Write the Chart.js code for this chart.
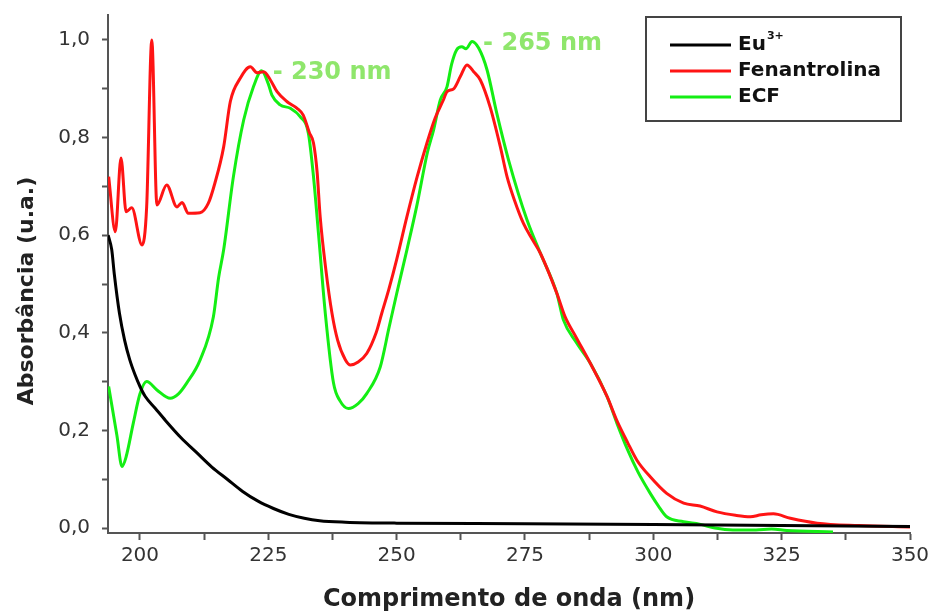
<!DOCTYPE html>
<html>
<head>
<meta charset="utf-8">
<script src="https://cdn.jsdelivr.net/npm/chart.js@4.4.1/dist/chart.umd.min.js"></script>
<style>
  html, body { margin: 0; padding: 0; background: #fff; }
  #grafico { display: block; }
</style>
</head>
<body>
<canvas id="grafico" width="933" height="614"></canvas>
<script>
// Espectros de absorção UV
const nomesSeries = ['Eu³⁺', 'Fenantrolina', 'ECF'];
const coresSeries = ['#000000', '#ff1414', '#14ee14'];

const euNm  = [193.8, 194.5, 195, 196, 197, 198, 199, 200, 201, 203, 205, 208, 211, 214, 217, 220, 223, 226, 229, 232, 235, 240, 250, 275, 300, 325, 350];
const euAbs = [0.60, 0.57, 0.52, 0.44, 0.385, 0.345, 0.315, 0.29, 0.27, 0.245, 0.22, 0.185, 0.155, 0.125, 0.10, 0.075, 0.055, 0.04, 0.028, 0.02, 0.015, 0.012, 0.01, 0.009, 0.007, 0.005, 0.003];

const fenNm  = [193.9, 195.2, 196.3, 197.3, 198.4, 200.4, 201.3, 202.3, 203.3, 205.2, 207.2, 208.2, 209.4, 211.7, 213.3, 214.6, 216.3, 217.6, 219.5, 221.5, 222.8, 224.1, 225.4, 226.7, 228.6, 230.6, 231.8, 233.0, 233.8, 234.5, 235.1, 236.2, 237.4, 238.5, 240.0, 241.0, 242.5, 244.2, 246.0, 247.1, 248.5, 250.0, 252.0, 254.0, 255.9, 257.5, 259.1, 259.8, 261.1, 262.4, 263.7, 265.0, 266.3, 268.2, 270.2, 271.5, 273.0, 274.7, 276.5, 278.0, 281.2, 282.8, 285.0, 287.7, 291.0, 292.9, 295.0, 296.8, 299.4, 302.6, 305.9, 309.1, 312.4, 316.0, 318.9, 321.0, 323.4, 326.7, 331.9, 340, 350];
const fenAbs = [0.72, 0.607, 0.758, 0.648, 0.656, 0.58, 0.658, 1.0, 0.662, 0.703, 0.658, 0.667, 0.645, 0.646, 0.665, 0.707, 0.781, 0.874, 0.921, 0.945, 0.933, 0.935, 0.918, 0.894, 0.874, 0.86, 0.846, 0.81, 0.789, 0.73, 0.638, 0.53, 0.44, 0.385, 0.345, 0.334, 0.34, 0.358, 0.40, 0.44, 0.49, 0.55, 0.638, 0.72, 0.789, 0.84, 0.877, 0.894, 0.90, 0.925, 0.949, 0.935, 0.918, 0.863, 0.781, 0.72, 0.67, 0.624, 0.59, 0.563, 0.481, 0.433, 0.39, 0.338, 0.269, 0.22, 0.175, 0.139, 0.105, 0.071, 0.051, 0.045, 0.033, 0.026, 0.023, 0.027, 0.029, 0.02, 0.01, 0.005, 0.002];

const ecfNm  = [193.9, 195.5, 196.5, 197.3, 198.7, 200.0, 201.3, 203.3, 205.9, 207.5, 209.1, 211.7, 214.3, 215.3, 216.3, 218.2, 220.2, 222.1, 223.7, 225.0, 225.7, 227.3, 229.3, 231.2, 232.8, 233.8, 234.8, 236.1, 237.7, 239.0, 240.6, 242.5, 244.2, 246.8, 248.5, 250.0, 252.0, 253.9, 256.0, 257.2, 258.5, 259.8, 260.7, 261.7, 262.7, 263.5, 264.7, 266.0, 267.6, 269.5, 271.8, 275.4, 278.0, 281.2, 282.5, 285.0, 287.7, 291.0, 292.9, 295.0, 297.0, 299.4, 301.0, 302.6, 305.9, 309.0, 312.0, 315.5, 320.0, 323.0, 326.0, 335.0];
const ecfAbs = [0.29, 0.19, 0.126, 0.146, 0.215, 0.275, 0.30, 0.283, 0.266, 0.275, 0.297, 0.344, 0.433, 0.512, 0.57, 0.72, 0.836, 0.904, 0.937, 0.91, 0.887, 0.867, 0.86, 0.843, 0.809, 0.72, 0.6, 0.44, 0.297, 0.26, 0.245, 0.255, 0.276, 0.33, 0.41, 0.48, 0.57, 0.659, 0.77, 0.816, 0.877, 0.904, 0.95, 0.98, 0.986, 0.982, 0.997, 0.983, 0.939, 0.85, 0.754, 0.631, 0.563, 0.481, 0.426, 0.38, 0.338, 0.269, 0.215, 0.16, 0.115, 0.071, 0.045, 0.023, 0.013, 0.008, 0.0, -0.004, -0.004, -0.002, -0.005, -0.008];

const xTicksMaiores = [200, 225, 250, 275, 300, 325, 350];
const xTicksMenores = [212.5, 237.5, 262.5, 287.5, 312.5, 337.5];
const yTicksMaiores = [0, 0.2, 0.4, 0.6, 0.8, 1.0];
const yTicksMenores = [0.1, 0.3, 0.5, 0.7, 0.9];

// rótulos dos picos do ECF
const picosNm = [223.7, 264.7];
const picosTexto = ['- 230 nm', '- 265 nm'];

const series = [[euNm, euAbs], [fenNm, fenAbs], [ecfNm, ecfAbs]];

Chart.defaults.font.family = '"DejaVu Sans", Arial, sans-serif';

const supMap = { '⁰':'0','¹':'1','²':'2','³':'3','⁴':'4','⁵':'5','⁶':'6','⁷':'7','⁸':'8','⁹':'9','⁺':'+','⁻':'-' };

const legendaCaixa = {
    id: 'legendaCaixa',
    afterDraw(chart) {
        const ctx = chart.ctx;
        ctx.save();
        ctx.strokeStyle = '#444';
        ctx.lineWidth = 2;
        ctx.strokeRect(646, 17, 255, 104);
        chart.data.datasets.forEach((ds, i) => {
            const y = 45 + i * 26;
            ctx.strokeStyle = ds.borderColor;
            ctx.lineWidth = 3;
            ctx.beginPath();
            ctx.moveTo(670, y);
            ctx.lineTo(731, y);
            ctx.stroke();
            ctx.fillStyle = '#111';
            ctx.textBaseline = 'middle';
            ctx.textAlign = 'left';
            const m = ds.label.match(/^(.*?)([⁰¹²³⁴⁵⁶⁷⁸⁹⁺⁻]*)$/);
            ctx.font = 'bold 20px "DejaVu Sans"';
            ctx.fillText(m[1], 738, y);
            if (m[2]) {
                const w = ctx.measureText(m[1]).width;
                ctx.font = 'bold 11px "DejaVu Sans"';
                ctx.fillText([...m[2]].map(c => supMap[c]).join(''), 738 + w + 1, y - 9);
            }
        });
        ctx.restore();
    }
};

const rotulosPicos = {
    id: 'rotulosPicos',
    afterDatasetsDraw(chart) {
        const ctx = chart.ctx;
        const sx = chart.scales.x, sy = chart.scales.y;
        ctx.save();
        ctx.fillStyle = '#8fe66c';
        ctx.font = 'bold 24px "DejaVu Sans"';
        ctx.textBaseline = 'middle';
        ctx.textAlign = 'left';
        picosNm.forEach((nm, i) => {
            const abs = ecfAbs[ecfNm.indexOf(nm)];
            ctx.fillText(picosTexto[i], sx.getPixelForValue(nm) + 11, sy.getPixelForValue(abs) + 2);
        });
        ctx.restore();
    }
};

const tituloY = {
    id: 'tituloY',
    afterDraw(chart) {
        const ctx = chart.ctx;
        ctx.save();
        ctx.translate(27, 291);
        ctx.rotate(-Math.PI / 2);
        ctx.fillStyle = '#222';
        ctx.font = 'bold 22px "DejaVu Sans"';
        ctx.textAlign = 'center';
        ctx.textBaseline = 'middle';
        ctx.fillText('Absorbância (u.a.)', 0, 0);
        ctx.restore();
    }
};

const ctx = document.getElementById('grafico').getContext('2d');

const chart = new Chart(ctx, {
    type: 'line',
    data: {
        datasets: series.map((s, i) => ({
            label: nomesSeries[i],
            data: s[0].map((x, j) => ({ x: x, y: s[1][j] })),
            borderColor: coresSeries[i],
            backgroundColor: coresSeries[i],
            borderWidth: 3,
            pointRadius: 0,
            fill: false,
            cubicInterpolationMode: 'monotone'
        }))
    },
    options: {
        responsive: false,
        animation: false,
        layout: { padding: { top: 15, right: 23, left: 0, bottom: 0 } },
        plugins: {
            legend: { display: false },
            tooltip: { enabled: false }
        },
        scales: {
            x: {
                type: 'linear',
                min: 193.77,
                max: 350,
                afterFit: s => {
                    s.height = 81;
                    s.paddingLeft = 0;
                    s.paddingRight = 0;
                },
                afterBuildTicks: s => {
                    s.ticks = [...xTicksMaiores, ...xTicksMenores].sort((a, b) => a - b).map(v => ({ value: v }));
                },
                border: { display: true, color: '#555', width: 2 },
                grid: { drawOnChartArea: false, drawTicks: true, tickLength: 7, color: '#555', tickWidth: 2 },
                ticks: {
                    autoSkip: false,
                    maxRotation: 0,
                    padding: 4,
                    color: '#333',
                    font: { size: 20 },
                    callback: v => xTicksMaiores.includes(v) ? String(v) : ''
                },
                title: {
                    display: true,
                    text: 'Comprimento de onda (nm)',
                    color: '#222',
                    font: { size: 24, weight: 'bold' },
                    padding: { top: 0, bottom: 0 }
                }
            },
            y: {
                min: -0.0102,
                max: 1.0512,
                afterFit: s => {
                    s.width = 108;
                    s.paddingTop = 0;
                    s.paddingBottom = 0;
                },
                afterBuildTicks: s => {
                    s.ticks = [...yTicksMaiores, ...yTicksMenores].sort((a, b) => a - b).map(v => ({ value: v }));
                },
                border: { display: true, color: '#555', width: 2 },
                grid: { drawOnChartArea: false, drawTicks: true, tickLength: 6, color: '#555', tickWidth: 2 },
                ticks: {
                    autoSkip: false,
                    padding: 12,
                    color: '#333',
                    font: { size: 20 },
                    callback: v => yTicksMaiores.includes(v) ? v.toFixed(1).replace('.', ',') : ''
                }
            }
        }
    },
    plugins: [legendaCaixa, rotulosPicos, tituloY]
});
</script>
</body>
</html>
